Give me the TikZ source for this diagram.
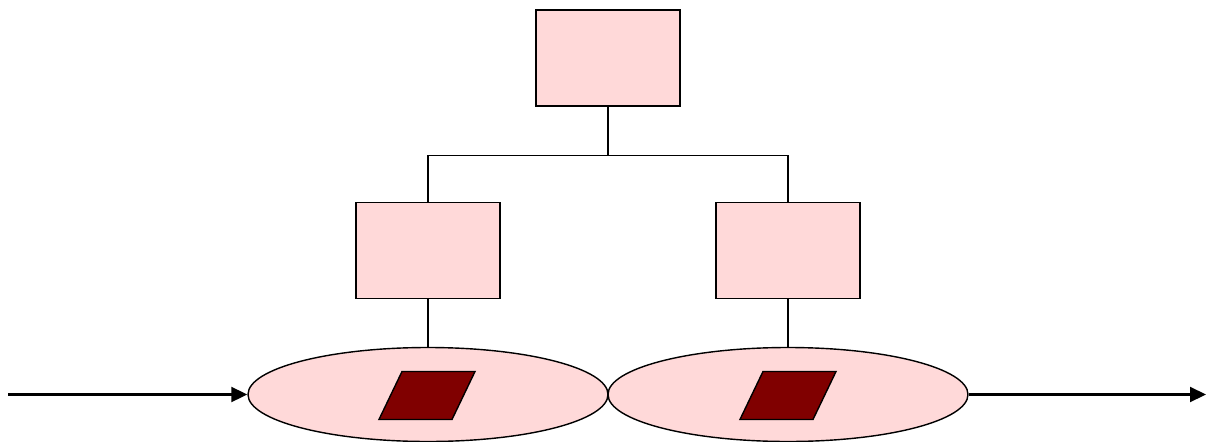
\documentclass[tikz,border=0pt]{standalone}
\usetikzlibrary{arrows.meta,shapes.geometric}
\definecolor{boxpink}{RGB}{255,217,217}
\definecolor{darkred}{RGB}{128,0,0}
\tikzset{
  unit/.style={draw, fill=boxpink, line width=0.8pt, minimum width=2.88cm, minimum height=1.92cm, inner sep=0pt},
  pool/.style={draw, fill=boxpink, ellipse, line width=0.8pt, minimum width=7.2cm, minimum height=1.88cm, inner sep=0pt},
  token/.style={draw, fill=darkred, line width=0.8pt, minimum width=1.46cm, minimum height=0.96cm, inner sep=0pt, xslant=0.48},
  flow/.style={line width=1.2pt, -{Triangle[length=0.32cm,width=0.3cm]}}
}
\begin{document}
\begin{tikzpicture}
  \useasboundingbox (0,0) rectangle (24.12,8.82);
  % tree of boxes
  \node[unit] (top) at (12.16,7.66) {};
  \node[unit] (left) at (8.56,3.81) {};
  \node[unit] (right) at (15.76,3.81) {};
  \draw[line width=0.8pt] (top.south) -- ++(0,-0.98) coordinate (bus)
    (left.north) |- (bus) -| (right.north);
  % pools with tokens
  \node[pool] (lpool) at (8.56,0.93) {};
  \node[pool] (rpool) at (15.76,0.93) {};
  \node[token] (ltok) at (8.54,0.91) {};
  \node[token] (rtok) at (15.76,0.91) {};
  \draw[line width=0.8pt] (left.south) -- (lpool.north);
  \draw[line width=0.8pt] (right.south) -- (rpool.north);
  % in and out
  \coordinate (in) at (0.16,0.93);
  \coordinate (out) at (24.12,0.93);
  \draw[flow] (in) -- (lpool.west);
  \draw[flow] (rpool.east) -- (out);
\end{tikzpicture}
\end{document}
